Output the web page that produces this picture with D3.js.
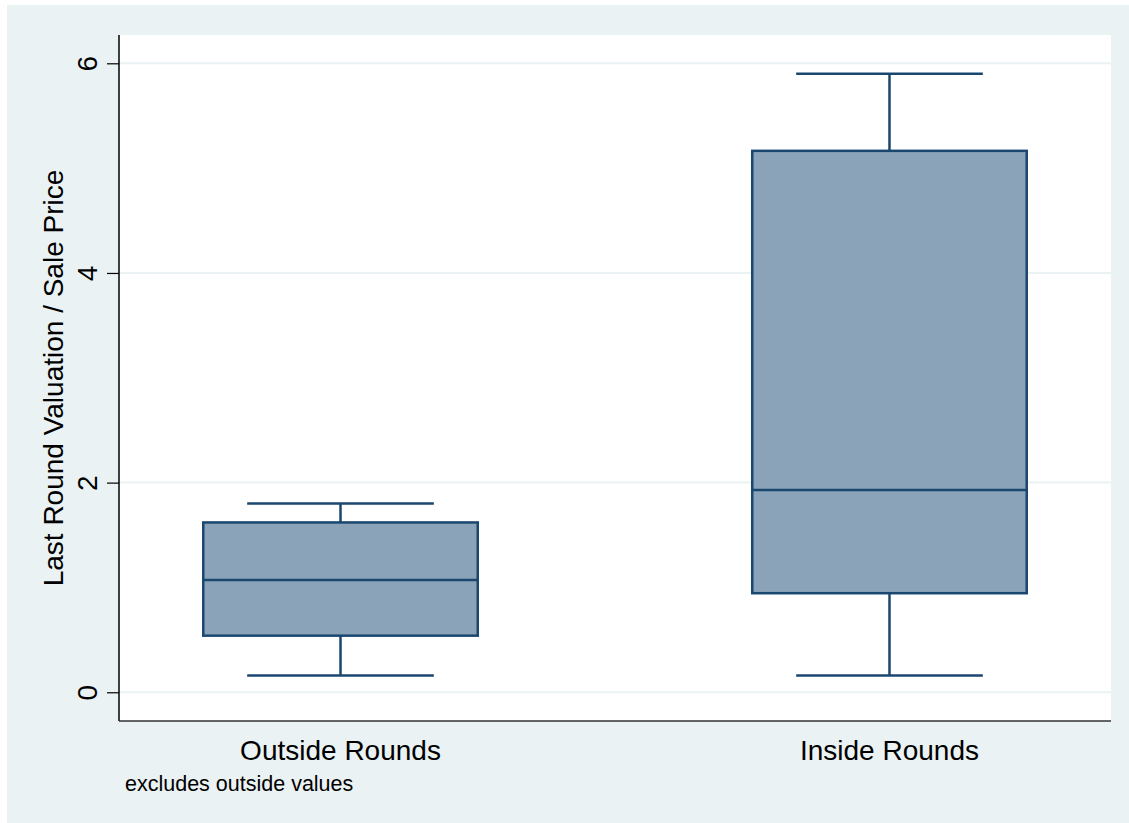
<!DOCTYPE html>
<html>
<head>
<meta charset="utf-8">
<script src="https://cdn.jsdelivr.net/npm/d3@7"></script>
<style>
  body { margin: 0; background: #ffffff; }
  text { font-family: "Liberation Sans", Arial, sans-serif; fill: #000; }
</style>
</head>
<body>
<div id="drawing"></div>
<script>
// data
var groups = ["Outside Rounds", "Inside Rounds"];
var lowerWhisker = [0.16, 0.16];
var q1 = [0.54, 0.945];
var median = [1.07, 1.93];
var q3 = [1.62, 5.165];
var upperWhisker = [1.80, 5.90];
var yTicks = [0, 2, 4, 6];
var yTitle = "Last Round Valuation / Sale Price";
var note = "excludes outside values";

var width = 1129;
var height = 823;
var plot = {left: 119, right: 1111, top: 35, bottom: 721};

var boxFill = "#8ba3b8";
var boxStroke = "#1a476f";
var bgColor = "#eaf2f3";

var svg = d3.select("#drawing").append("svg")
  .attr("width", width)
  .attr("height", height);

// outer graph region
svg.append("rect")
  .attr("x", 7).attr("y", 5)
  .attr("width", width - 7).attr("height", height - 5)
  .style("fill", bgColor);

// plot region
svg.append("rect")
  .attr("x", plot.left).attr("y", plot.top)
  .attr("width", plot.right - plot.left).attr("height", plot.bottom - plot.top)
  .style("fill", "#ffffff");

var yScale = d3.scaleLinear().domain([-0.274, 6.27]).range([plot.bottom, plot.top]);
var xScale = d3.scalePoint().domain(groups).range([plot.left, plot.right]).padding(0.4035);
var step = xScale.step();
var boxW = step * 0.5;
var capW = step * 0.34;

// gridlines
svg.selectAll(".grid")
  .data(yTicks)
  .enter().append("line")
  .attr("class", "grid")
  .attr("x1", plot.left).attr("x2", plot.right)
  .attr("y1", d => yScale(d)).attr("y2", d => yScale(d))
  .style("stroke", bgColor)
  .style("stroke-width", 2);

var rows = groups.map((g, i) => ({
  g: g, lo: lowerWhisker[i], q1: q1[i], med: median[i], q3: q3[i], hi: upperWhisker[i]
}));

var boxes = svg.selectAll(".box")
  .data(rows)
  .enter().append("g")
  .attr("class", "box");

// whiskers
boxes.append("line")
  .attr("x1", d => xScale(d.g)).attr("x2", d => xScale(d.g))
  .attr("y1", d => yScale(d.q3)).attr("y2", d => yScale(d.hi))
  .style("stroke", boxStroke).style("stroke-width", 2.5);
boxes.append("line")
  .attr("x1", d => xScale(d.g)).attr("x2", d => xScale(d.g))
  .attr("y1", d => yScale(d.q1)).attr("y2", d => yScale(d.lo))
  .style("stroke", boxStroke).style("stroke-width", 2.5);
// caps
boxes.append("line")
  .attr("x1", d => xScale(d.g) - capW / 2).attr("x2", d => xScale(d.g) + capW / 2)
  .attr("y1", d => yScale(d.hi)).attr("y2", d => yScale(d.hi))
  .style("stroke", boxStroke).style("stroke-width", 2.5);
boxes.append("line")
  .attr("x1", d => xScale(d.g) - capW / 2).attr("x2", d => xScale(d.g) + capW / 2)
  .attr("y1", d => yScale(d.lo)).attr("y2", d => yScale(d.lo))
  .style("stroke", boxStroke).style("stroke-width", 2.5);
// box
boxes.append("rect")
  .attr("x", d => xScale(d.g) - boxW / 2)
  .attr("width", boxW)
  .attr("y", d => yScale(d.q3))
  .attr("height", d => yScale(d.q1) - yScale(d.q3))
  .style("fill", boxFill)
  .style("stroke", boxStroke).style("stroke-width", 2.5);
// median
boxes.append("line")
  .attr("x1", d => xScale(d.g) - boxW / 2).attr("x2", d => xScale(d.g) + boxW / 2)
  .attr("y1", d => yScale(d.med)).attr("y2", d => yScale(d.med))
  .style("stroke", boxStroke).style("stroke-width", 2.5);

// y axis
var yAxis = svg.append("g")
  .attr("transform", `translate(${plot.left},0)`)
  .call(d3.axisLeft(yScale).tickValues(yTicks).tickFormat(d3.format("d"))
    .tickSize(12).tickPadding(10).tickSizeOuter(0));
yAxis.select(".domain").remove();
yAxis.selectAll(".tick line").style("stroke", "#000").style("stroke-width", 1.2);
yAxis.selectAll(".tick text")
  .attr("x", null).attr("dy", null)
  .attr("transform", "translate(-22,0) rotate(-90)")
  .attr("text-anchor", "middle")
  .style("font-family", "'Liberation Sans', Arial, sans-serif")
  .style("font-size", "28px")
  .style("fill", "#000");

svg.append("line")
  .attr("x1", plot.left).attr("x2", plot.left)
  .attr("y1", plot.top).attr("y2", plot.bottom)
  .style("stroke", "#000").style("stroke-width", 1.5);

// x axis
svg.append("line")
  .attr("x1", plot.left).attr("x2", plot.right)
  .attr("y1", plot.bottom).attr("y2", plot.bottom)
  .style("stroke", "#333").style("stroke-width", 1.5);

svg.selectAll(".xlabel")
  .data(groups)
  .enter().append("text")
  .attr("class", "xlabel")
  .attr("x", d => xScale(d))
  .attr("y", 760)
  .attr("text-anchor", "middle")
  .style("font-size", "28px")
  .text(d => d);

// y title
svg.append("text")
  .attr("transform", `translate(63,${(plot.top + plot.bottom) / 2}) rotate(-90)`)
  .attr("text-anchor", "middle")
  .style("font-size", "28px")
  .text(yTitle);

// note
svg.append("text")
  .attr("x", 125)
  .attr("y", 791)
  .style("font-size", "21.5px")
  .text(note);
</script>
</body>
</html>
